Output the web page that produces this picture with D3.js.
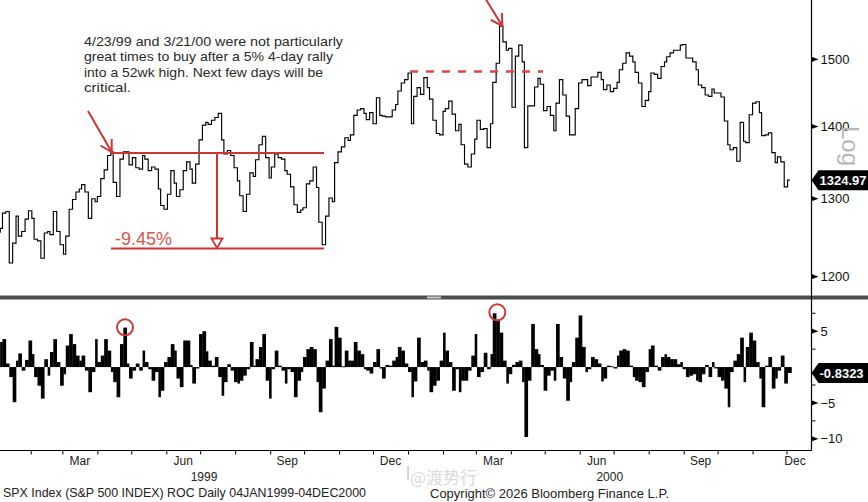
<!DOCTYPE html>
<html><head><meta charset="utf-8">
<script src="https://cdn.jsdelivr.net/npm/d3@7"></script>
<style>
html,body{margin:0;padding:0;background:#fff;}
svg{display:block;font-family:"Liberation Sans",Arial,sans-serif;}
</style></head><body>
<svg id="chart" width="868" height="502"></svg>
<script>
// ---------- data (one value every 2nd trading day, 04JAN1999-04DEC2000) ----------
const priceValues = [
1256,1261,1281,1283,1217,1242,1277,1251,1257,1273,
1284,1274,1247,1245,1223,1255,1257,1253,1283,1257,
1240,1228,1251,1286,1299,1309,1313,1319,1309,1274,
1300,1296,1303,1327,1339,1359,1364,1322,1303,1354,
1364,1364,1346,1356,1342,1340,1359,1354,1338,1343,
1340,1313,1291,1286,1306,1338,1321,1303,1312,1338,
1350,1340,1321,1347,1381,1402,1406,1403,1409,1413,
1419,1381,1361,1366,1359,1342,1324,1304,1283,1306,
1335,1330,1353,1374,1386,1356,1328,1343,1361,1356,
1354,1338,1333,1316,1292,1282,1285,1288,1320,1324,
1343,1315,1269,1240,1277,1301,1296,1349,1364,1371,
1384,1380,1388,1416,1424,1426,1419,1410,1420,1404,
1442,1416,1415,1414,1414,1424,1432,1452,1464,1469,
1479,1404,1444,1457,1447,1472,1457,1440,1409,1390,
1388,1422,1426,1437,1418,1394,1403,1374,1347,1343,
1361,1382,1409,1396,1397,1370,1404,1465,1494,1552,
1527,1514,1517,1428,1505,1522,1496,1370,1430,1430,
1458,1471,1462,1423,1429,1416,1394,1434,1469,1446,
1415,1388,1388,1426,1464,1469,1469,1460,1473,1473,
1480,1469,1454,1461,1451,1456,1465,1484,1494,1510,
1505,1496,1480,1464,1429,1438,1451,1479,1477,1471,
1489,1496,1504,1510,1514,1514,1522,1523,1502,1502,
1496,1484,1461,1457,1446,1444,1455,1449,1449,1443,
1408,1374,1367,1370,1351,1406,1379,1377,1417,1434,
1436,1420,1387,1388,1391,1363,1349,1357,1350,1316,
1324.97
];
const rocValues = [
3.4,3.5,3.9,0.5,-1.4,-4.9,0.9,1.9,-0.5,1.0,
3.7,1.8,-1.4,-2.6,-4.4,1.1,-1.2,2.1,3.9,0.7,
-2.6,-1.0,3.0,4.6,3.2,1.6,0.9,1.6,-0.5,-3.5,
-0.7,3.9,0.7,1.6,3.9,2.3,-0.7,-2.1,-4.2,3.2,
5.5,0.5,-1.6,-0.5,0.5,-0.5,2.3,0.7,-0.3,-1.9,
-0.7,-4.2,-3.3,0.7,1.4,3.2,2.3,-1.6,-2.8,3.7,
3.7,0.3,-2.3,-0.2,4.6,5.0,2.2,0.9,0.2,1.4,
-1.4,-4.0,-2.1,0.4,-0.5,-2.1,-2.3,-1.9,-1.2,-0.3,
3.5,0.2,1.1,2.8,4.6,-1.9,-4.4,-0.3,2.3,0.2,
-0.5,-2.3,-0.3,-0.7,-4.2,-1.9,-0.7,1.4,2.5,2.8,
2.5,-2.1,-6.3,-3.0,0.9,3.9,0.2,5.6,4.1,0.1,
2.3,0.9,0.9,3.5,2.3,1.8,-0.3,-0.5,-0.9,0.7,
2.5,-0.2,-1.6,0.3,0.2,0.9,1.4,2.8,2.3,0.5,
-0.7,-4.2,-2.0,4.1,0.7,0.9,-0.5,-3.5,-2.6,-1.9,
0.9,4.8,2.3,0.7,-3.3,-0.3,-3.5,-1.9,-1.9,-0.5,
1.6,4.6,-1.4,-0.7,2.0,-0.3,1.8,7.5,6.5,4.8,
0.9,-2.3,-1.0,0.3,0.7,0.9,-2.1,-9.75,-1.9,6.0,
2.5,1.8,0.3,-3.3,-1.2,-0.5,-1.9,6.0,1.4,-1.6,
-4.7,-2.1,0.7,4.1,7.2,2.8,-0.7,-0.3,1.4,1.1,
0.5,-2.0,-1.6,0.2,0.1,-0.2,1.6,2.3,2.5,2.3,
0.2,-1.4,-1.9,-2.1,-2.8,-0.7,2.5,3.0,0.2,-0.5,
1.4,1.8,1.4,1.1,1.1,0.4,0.7,-0.3,-1.4,-1.2,
-1.0,-1.9,-2.1,-1.0,0.3,-1.4,0.7,-0.2,-1.4,-1.9,
-3.0,-5.6,-0.7,0.9,1.8,4.1,-2.1,2.8,4.8,3.7,
0.7,-1.6,-5.6,0.2,1.4,-3.0,-1.6,-0.5,1.6,-2.3,
-0.8323
];
const priceTicks = [1200, 1300, 1400, 1500];
const rocTicks = [5, -5, -10];
const rocMinorTicks = [7.5, 2.5, -2.5, -7.5];
const labelMonths = ["1999-03","1999-06","1999-09","1999-12","2000-03","2000-06","2000-09","2000-12"];
const yearLabels = ["1999", "2000"];
const lastPrice = "1324.97";
const lastRoc = "-0.8323";
const noteLines = [
  "4/23/99 and 3/21/00 were not particularly",
  "great times to buy after a 5% 4-day rally",
  "into a 52wk high. Next few days will be",
  "critical."
];
const dropLabel = "-9.45%";
const footerLeft = "SPX Index (S&P 500 INDEX) ROC Daily 04JAN1999-04DEC2000";
const footerRight = "Copyright\u00A9 2026 Bloomberg Finance L.P.";
const watermark = "@渡势行";

// ---------- dates: every 2nd weekday from 4 Jan 1999 to 4 Dec 2000 ----------
const weekdays = d3.timeDays(new Date(1999,0,4), new Date(2000,11,5)).filter(d => d.getDay() !== 0 && d.getDay() !== 6);
const dates = weekdays.filter((d,i) => i % 2 === 0);
const price = dates.map((d,i) => ({date:d, v:priceValues[i]}));
const roc = dates.map((d,i) => ({date:d, v:rocValues[i], i:i}));

const svg = d3.select("#chart");
const W = 868, AX = 811.5;
const RED = "#cf3434";

const x = d3.scaleTime().domain([new Date(1999,0,1), new Date(2001,0,1)]).range([-4.3, 821.5]);
const yP = d3.scaleLog().domain([1200,1500]).range([276.7,59.3]);
const yR = d3.scaleLinear().domain([-10,5]).range([438.8,331.2]);

const defs = svg.append("defs");
defs.append("clipPath").attr("id","cp1").append("rect").attr("x",0).attr("y",0).attr("width",AX).attr("height",295);
defs.append("clipPath").attr("id","cp2").append("rect").attr("x",0).attr("y",300).attr("width",AX).attr("height",150);

// ---------- price panel ----------
const line = d3.line().x(d => x(d.date)).y(d => yP(d.v)).curve(d3.curveStep);
svg.append("g").attr("clip-path","url(#cp1)")
  .append("path").datum(price).attr("d", line)
  .attr("fill","none").attr("stroke","#000").attr("stroke-width",1.15);

// ---------- ROC panel (contiguous histogram bars) ----------
const xs = dates.map(d => x(d));
const leftEdge = i => i === 0 ? xs[0] - 1.6 : (xs[i-1] + xs[i]) / 2;
const rightEdge = i => i === xs.length-1 ? xs[i] + 1.6 : (xs[i] + xs[i+1]) / 2;
svg.append("g").attr("clip-path","url(#cp2)").selectAll("rect").data(roc).join("rect")
  .attr("x", d => leftEdge(d.i)).attr("width", d => rightEdge(d.i) - leftEdge(d.i) + 0.3)
  .attr("y", d => Math.min(yR(d.v), yR(0)))
  .attr("height", d => Math.max(0.9, Math.abs(yR(d.v) - yR(0))))
  .attr("fill","#000");

// ---------- separator ----------
svg.append("rect").attr("x",0).attr("y",295.5).attr("width",W).attr("height",4).attr("fill","#4d4d4d");
svg.append("rect").attr("x",427).attr("y",296.5).attr("width",14).attr("height",2).attr("fill","#c9c9c9");

// ---------- right axes ----------
svg.append("line").attr("x1",AX).attr("x2",AX).attr("y1",0).attr("y2",450.5).attr("stroke","#000").attr("stroke-width",1.2);
const pAxis = svg.append("g").attr("transform",`translate(${AX},0)`)
  .call(d3.axisRight(yP).tickValues(priceTicks).tickSize(0).tickPadding(9).tickFormat(d3.format("d")));
pAxis.select(".domain").remove();
pAxis.selectAll("text").attr("font-size",13).attr("fill","#111").attr("font-family","Liberation Sans, Arial, sans-serif");
const rAxis = svg.append("g").attr("transform",`translate(${AX},0)`)
  .call(d3.axisRight(yR).tickValues(rocTicks).tickSize(0).tickPadding(9).tickFormat(d3.format("d")));
rAxis.select(".domain").remove();
rAxis.selectAll("text").attr("font-size",13).attr("fill","#111").attr("font-family","Liberation Sans, Arial, sans-serif");
const tri = yy => `M${AX},${yy-2.6}L${AX+7},${yy}L${AX},${yy+2.6}Z`;
svg.selectAll("path.pm").data(priceTicks).join("path").attr("class","pm").attr("d", d => tri(yP(d))).attr("fill","#000");
svg.selectAll("path.rm").data(rocTicks).join("path").attr("class","rm").attr("d", d => tri(yR(d))).attr("fill","#000");
svg.selectAll("line.rmi").data(rocMinorTicks).join("line").attr("class","rmi")
  .attr("x1",AX).attr("x2",AX+4).attr("y1",d=>yR(d)).attr("y2",d=>yR(d)).attr("stroke","#000");

// Log label
svg.append("text").attr("transform","translate(842,126) rotate(90)")
  .attr("font-size",24).attr("fill","#b8b8b8").text("Log");

// last-value tags
function tag(yy, txt){
  svg.append("path").attr("d",`M${AX},${yy}L${AX+7},${yy-10}L${W},${yy-10}L${W},${yy+10}L${AX+7},${yy+10}Z`).attr("fill","#000");
  svg.append("text").attr("x",AX+8).attr("y",yy+4.6).attr("font-size",13).attr("font-weight","bold")
    .attr("fill","#fff").text(txt);
}
tag(yP(priceValues[priceValues.length-1]), lastPrice);
tag(yR(rocValues[rocValues.length-1]), lastRoc);

// ---------- bottom axis ----------
svg.append("line").attr("x1",0).attr("x2",AX).attr("y1",450.5).attr("y2",450.5).attr("stroke","#000").attr("stroke-width",1.2);
const monthTicks = d3.timeMonths(new Date(1999,1,1), new Date(2000,11,2));
const xAxis = svg.append("g").attr("transform","translate(0,450.5)")
  .call(d3.axisBottom(x).tickValues(monthTicks).tickSize(4).tickFormat(""));
xAxis.select(".domain").remove();
svg.append("line").attr("x1",x(new Date(2000,0,1))).attr("x2",x(new Date(2000,0,1)))
  .attr("y1",466).attr("y2",480).attr("stroke","#aaa");
const parseM = d3.timeParse("%Y-%m");
svg.selectAll("text.mon").data(labelMonths).join("text").attr("class","mon")
  .attr("x", m => { const s = parseM(m), e = d3.timeMonth.offset(s,1); return (Math.max(0,x(s)) + Math.min(AX - 8,x(e)))/2; })
  .attr("y",465).attr("text-anchor","middle").attr("font-size",12).attr("fill","#222")
  .text(m => d3.timeFormat("%b")(parseM(m)));
svg.selectAll("text.yr").data(yearLabels).join("text").attr("class","yr")
  .attr("x", yv => { const s = new Date(+yv,0,1), e = new Date(+yv+1,0,1); return (Math.max(0,x(s)) + Math.min(AX,x(e)))/2; })
  .attr("y",481).attr("text-anchor","middle").attr("font-size",12).attr("fill","#222").text(d=>d);

// ---------- annotations ----------
const noteW = [259, 249, 239, 47];
noteLines.forEach((t,i) => {
  svg.append("text").attr("x",84).attr("y",45.5 + i*15.6).attr("font-size",13).attr("fill","#2a2a2a")
    .attr("textLength", noteW[i]).attr("lengthAdjust","spacingAndGlyphs").text(t);
});

function arrow(x1,y1,x2,y2){
  svg.append("line").attr("x1",x1).attr("y1",y1).attr("x2",x2).attr("y2",y2).attr("stroke",RED).attr("stroke-width",2);
  const a = Math.atan2(y1-y2, x1-x2), L = 13;
  const p = [a-Math.PI/6, a+Math.PI/6].map(b => [x2 + L*Math.cos(b), y2 + L*Math.sin(b)]);
  svg.append("path").attr("d",`M${p[0][0]},${p[0][1]}L${x2},${y2}L${p[1][0]},${p[1][1]}`)
    .attr("fill","none").attr("stroke",RED).attr("stroke-width",2);
}
arrow(88, 111, 111.7, 152);
arrow(485.7, -1, 502.3, 26);

const topY = 153, botY = 248.5;
svg.append("line").attr("x1",111).attr("x2",324).attr("y1",topY).attr("y2",topY).attr("stroke",RED).attr("stroke-width",2);
svg.append("line").attr("x1",111).attr("x2",324).attr("y1",botY).attr("y2",botY).attr("stroke",RED).attr("stroke-width",2);
svg.append("line").attr("x1",217).attr("x2",217).attr("y1",topY).attr("y2",238.5).attr("stroke",RED).attr("stroke-width",2);
svg.append("path").attr("d",`M211.5,238.5L222.5,238.5L217,248Z`).attr("fill","#fff").attr("stroke",RED).attr("stroke-width",1.8);
svg.append("text").attr("x",115).attr("y",245).attr("font-size",18).attr("fill","#d9544c").text(dropLabel);

svg.append("line").attr("x1",410).attr("x2",543).attr("y1",71.5).attr("y2",71.5)
  .attr("stroke","#d84848").attr("stroke-width",2.4).attr("stroke-dasharray","8,8");

svg.append("circle").attr("cx",125).attr("cy",327.3).attr("r",8).attr("fill","none").attr("stroke","#c83a3a").attr("stroke-width",2);
svg.append("circle").attr("cx",497.3).attr("cy",312.3).attr("r",8).attr("fill","none").attr("stroke","#c83a3a").attr("stroke-width",2);

// ---------- footer ----------
svg.append("text").attr("x",410).attr("y",484).attr("font-size",17)
  .attr("font-family","Noto Sans CJK SC, sans-serif").attr("fill","#d4d4d4").attr("opacity",0.85).text(watermark);
svg.append("text").attr("x",3).attr("y",497).attr("font-size",13).attr("fill","#222")
  .attr("textLength",363).attr("lengthAdjust","spacingAndGlyphs").text(footerLeft);
svg.append("text").attr("x",430).attr("y",498).attr("font-size",12.5).attr("fill","#222")
  .attr("textLength",239).attr("lengthAdjust","spacingAndGlyphs").text(footerRight);
</script>
</body></html>
